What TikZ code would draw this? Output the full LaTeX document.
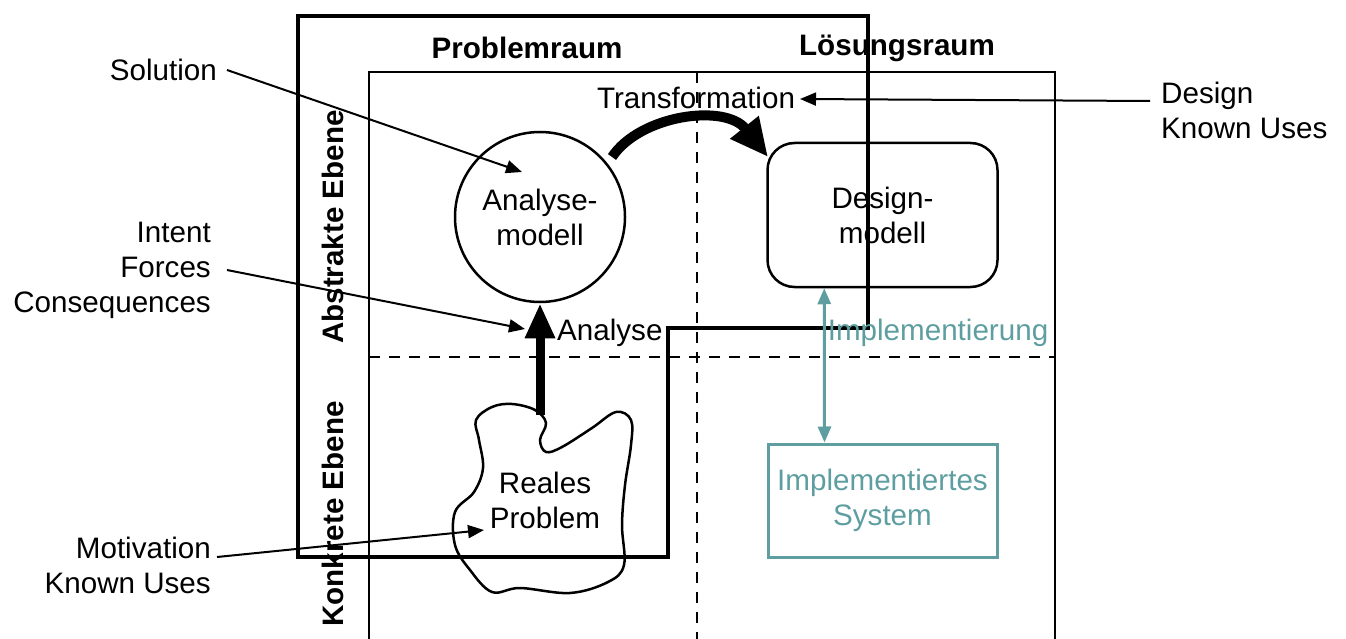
\documentclass[tikz,border=0pt]{standalone}
\usepackage{fontspec}
\setmainfont{Liberation Sans}
\usetikzlibrary{arrows.meta}
\definecolor{tealc}{HTML}{5F9EA0}
\begin{document}
\begin{tikzpicture}[x=1pt,y=-1pt,
  every node/.style={font=\fontsize{29.6}{35}\selectfont, inner sep=0pt},
  thinframe/.style={line width=1.5pt},
  dashline/.style={line width=1.5pt, dash pattern=on 11pt off 9pt},
  ptr/.style={line width=2pt, -{Triangle[length=16pt,width=13pt]}},
  hdr/.style={font=\fontsize{29.6}{35}\selectfont\bfseries}
]
\useasboundingbox (0,0) rectangle (1346,639);
% inner frame
\draw[thinframe] (369,639) -- (369,72) -- (1055,72) -- (1055,639);
\draw[dashline] (697,72) -- (697,639);
\draw[dashline] (369,357) -- (1055,357);
% thick outline
\draw[line width=4pt, line join=miter] (298,16) -- (868,16) -- (868,328) -- (668,328) -- (668,557) -- (298,557) -- cycle;
% headers
\node[hdr] (pr) at (527,48) {Problemraum};
\node[hdr] (lr) at (897,48) {Lösungsraum};
\node[hdr, rotate=90] (ae) at (333,227) {Abstrakte Ebene};
\node[hdr, rotate=90] (ke) at (333,514) {Konkrete Ebene};
% main nodes
\node[draw, circle, line width=2.5pt, minimum size=170pt, align=center] (am) at (540,217) {Analyse-\\modell};
\node[draw, rectangle, rounded corners=27pt, line width=2.5pt, minimum width=230pt, minimum height=144pt, align=center] (dm) at (882.5,215) {Design-\\modell};
\node[draw=tealc, text=tealc, rectangle, line width=3pt, minimum width=229pt, minimum height=113pt, align=center] (is) at (882.5,500.5) {Implementiertes\\System};
% cloud
\draw[line width=2.5pt] plot[smooth cycle, tension=0.6] coordinates {
 (476,420) (492,407) (512,404) (535,410) (546,423) (540,440) (546,452) (562,447)
 (592,428) (616,412) (631,420) (631,445) (625,485) (622,525) (624,565) (608,582)
 (570,593) (520,588) (492,592) (470,570) (455,545) (455,512) (474,492) (483,468) (479,440)};
\node[align=center] (rp) at (545,500) {Reales\\Problem};
\coordinate (cloudtop) at (540,415);
% analysis arrow
\draw[line width=9pt, -{Triangle[length=35pt,width=28pt]}] (cloudtop) -- (am.south);
\node[anchor=west] (an) at (557,333) {Analyse};
% transformation arc
\coordinate (trstart) at (612,157);
\coordinate (trend) at (768,157);
\draw[line width=10pt, -{Triangle[length=38pt,width=34pt]}] (trstart) .. controls (640,115) and (725,103) .. (trend);
\node (tr) at (696,98) {Transformation};
% implementation arrow
\draw[tealc, line width=3pt, {Triangle[length=16pt,width=13pt]}-{Triangle[length=16pt,width=13pt]}] ([xshift=58pt]dm.south west) -- ([xshift=58pt]is.north west);
\node[text=tealc] (im) at (938,333) {Implementierung};
% side labels
\node[anchor=east] (sol) at (217,70) {Solution};
\node[anchor=east, align=right] (ifc) at (211,270) {Intent\\Forces\\Consequences};
\node[anchor=east, align=right] (mku) at (211,565) {Motivation\\Known Uses};
\node[anchor=west, align=left] (dku) at (1161,110) {Design\\Known Uses};
\coordinate (solend) at (522,172);
\coordinate (ifcend) at (525,329);
\coordinate (mkuend) at (484,530);
\coordinate (dkuend) at (800,99);
\draw[ptr] ([xshift=10pt]sol.east) -- (solend);
\draw[ptr] ([xshift=16pt]ifc.east) -- (ifcend);
\draw[ptr] ([xshift=6pt,yshift=8pt]mku.east) -- (mkuend);
\draw[ptr] (1150,101) -- (dkuend);
\end{tikzpicture}
\end{document}
